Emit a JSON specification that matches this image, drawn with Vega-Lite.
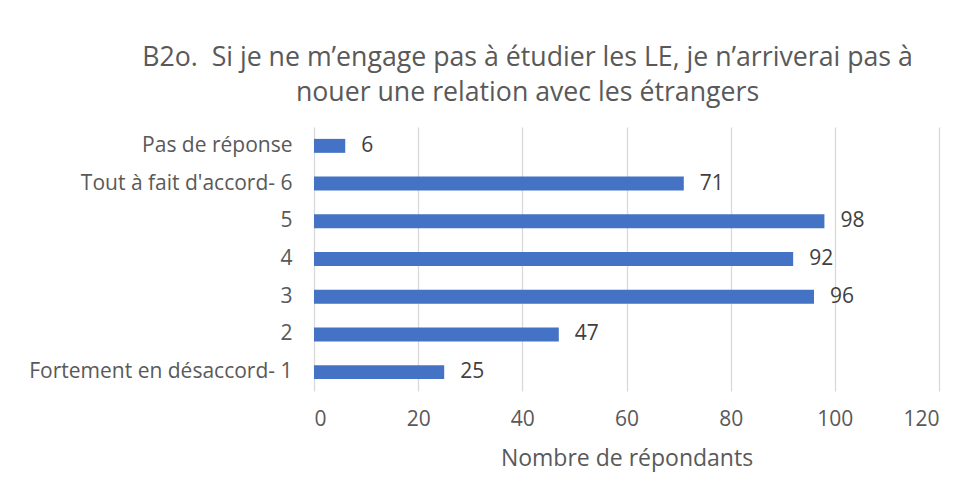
{
  "$schema": "https://vega.github.io/schema/vega-lite/v6.json",
  "width": 625,
  "height": 264,
  "autosize": {"type": "none"},
  "padding": {"left": 314, "top": 127, "right": 31, "bottom": 97},
  "background": "white",
  "config": {"view": {"stroke": null}, "font": "Open Sans"},
  "title": {
    "text": ["B2o.\u00a0 Si je ne m’engage pas à étudier les LE, je n’arriverai pas à", "nouer une relation avec les étrangers"],
    "font": "Open Sans",
    "fontSize": 26.7,
    "fontWeight": "normal",
    "color": "#595959",
    "lineHeight": 35,
    "anchor": "middle",
    "dx": -99,
    "offset": 20
  },
  "data": {
    "values": [
      {"cat": "Pas de réponse", "n": 6},
      {"cat": "Tout à fait d'accord- 6", "n": 71},
      {"cat": "5", "n": 98},
      {"cat": "4", "n": 92},
      {"cat": "3", "n": 96},
      {"cat": "2", "n": 47},
      {"cat": "Fortement en désaccord- 1", "n": 25}
    ]
  },
  "encoding": {
    "y": {
      "field": "cat",
      "type": "nominal",
      "sort": null,
      "scale": {"paddingInner": 0.63, "paddingOuter": 0.315},
      "axis": {
        "title": null,
        "ticks": false,
        "domain": false,
        "labelFontSize": 21,
        "labelColor": "#595959",
        "labelPadding": 22,
        "labelLimit": 400,
        "labelFont": "Open Sans"
      }
    },
    "x": {
      "field": "n",
      "type": "quantitative",
      "scale": {"domain": [0, 120], "nice": false},
      "axis": {
        "values": [0, 20, 40, 60, 80, 100, 120],
        "title": "Nombre de répondants",
        "titleFontSize": 23,
        "titleFontWeight": "normal",
        "titleColor": "#595959",
        "titleFont": "Open Sans",
        "titlePadding": 18,
        "ticks": false,
        "domain": false,
        "labelFontSize": 21,
        "labelColor": "#595959",
        "labelPadding": 17,
        "labelFont": "Open Sans",
        "grid": true,
        "gridColor": "#d9d9d9",
        "gridWidth": 1.3
      }
    }
  },
  "layer": [
    {"mark": {"type": "bar", "color": "#4472C4"}},
    {
      "mark": {"type": "text", "align": "left", "dx": 16, "fontSize": 21, "color": "#404040", "font": "Open Sans"},
      "encoding": {"text": {"field": "n", "type": "quantitative"}}
    }
  ]
}
